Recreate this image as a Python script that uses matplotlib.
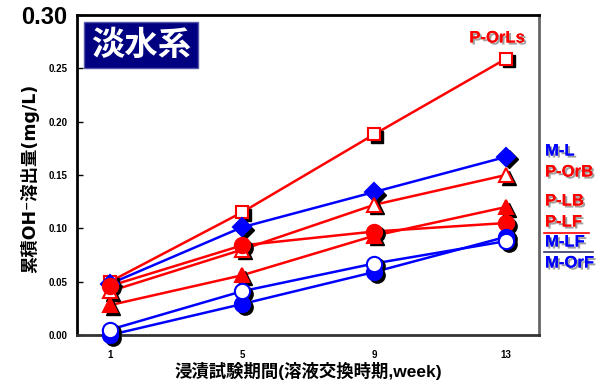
import matplotlib
matplotlib.use("Agg")
import matplotlib.pyplot as plt
import matplotlib.transforms as mtrans
import matplotlib.patheffects as pe
from matplotlib.lines import Line2D

plt.rcParams['font.family'] = ['Liberation Sans', 'DejaVu Sans', 'Noto Sans CJK JP']

weeks = [1, 5, 9, 13]
series_names = ["P-OrLs", "M-L", "P-OrB", "P-LB", "P-LF", "M-LF", "M-OrF"]
p_orls = [0.050, 0.115, 0.188, 0.259]
m_l = [0.048, 0.101, 0.134, 0.167]
p_orb = [0.041, 0.080, 0.122, 0.150]
p_lb = [0.028, 0.056, 0.093, 0.120]
p_lf = [0.046, 0.084, 0.097, 0.105]
m_lf = [0.000, 0.029, 0.059, 0.092]
m_orf = [0.005, 0.041, 0.067, 0.088]
yticks = [0.00, 0.05, 0.10, 0.15, 0.20, 0.25, 0.30]
ytick_labels = ["0.00", "0.05", "0.10", "0.15", "0.20", "0.25", "0.30"]

RED = "#FF0000"
BLUE = "#0000FF"

styles = [
    (p_orls, RED, 's', 'white'),
    (m_l, BLUE, 'D', BLUE),
    (p_orb, RED, '^', 'white'),
    (p_lb, RED, '^', RED),
    (p_lf, RED, 'o', RED),
    (m_lf, BLUE, 'o', BLUE),
    (m_orf, BLUE, 'o', 'white'),
]
msizes = {'s': 9, 'D': 9, '^': 10, 'o': 11}

fig = plt.figure(figsize=(6.12, 3.8), dpi=100)
ax = fig.add_axes([77/612, 1-335/380, (539-77)/612, (335-15)/380])
ax.set_xlim(0, 14)
ax.set_ylim(0, 0.30)

shadow_tr = ax.transData + mtrans.ScaledTranslation(2.5/100, -2.5/100, fig.dpi_scale_trans)

for vals, col, mk, fc in styles:
    ax.plot(weeks, vals, '-', color=col, lw=1.8, zorder=2, clip_on=False)
for vals, col, mk, fc in styles:
    ax.plot(weeks, vals, linestyle='none', marker=mk, ms=msizes[mk], mfc='black',
            mec='black', transform=shadow_tr, zorder=3, clip_on=False)
for vals, col, mk, fc in styles:
    ax.plot(weeks, vals, linestyle='none', marker=mk, ms=msizes[mk], mfc=fc,
            mec=col, mew=1.5, zorder=4, clip_on=False)

ax.set_xticks(weeks)
ax.set_xticklabels([str(w) for w in weeks], fontsize=7, fontweight='bold')
ax.tick_params(axis='x', length=0, pad=11)
ax.set_yticks(yticks)
labs = ax.set_yticklabels(ytick_labels, fontsize=7, fontweight='bold')
labs[-1].set_fontsize(17)
ax.tick_params(axis='y', direction='in', length=4, width=1, pad=7)

for s in ['left', 'top']:
    ax.spines[s].set_linewidth(2)
    ax.spines[s].set_color('black')
ax.spines['bottom'].set_linewidth(2)
ax.spines['bottom'].set_color('#333333')
ax.spines['right'].set_linewidth(2)
ax.spines['right'].set_color('#666666')

ax.set_xlabel("浸漬試験期間(溶液交換時期,week)", fontsize=12.5, fontweight='bold')
ax.xaxis.set_label_coords(0.5, (335 - 371) / 320)
ax.xaxis.label.set_va('center')
ax.set_ylabel("累積OH⁻溶出量(mg/L)", fontsize=12.5, fontweight='bold',
              family=['DejaVu Sans', 'Noto Sans CJK JP'])
ax.yaxis.set_label_coords(-(77 - 30) / 462, 0.49)
ax.yaxis.label.set_va('center')

fig.text(141/612, 1-45/380, "淡水系", fontsize=24, fontweight='bold', color='white',
         ha='center', va='center', family=['Noto Sans CJK JP'],
         bbox=dict(boxstyle='square,pad=0.2', fc='#000080', ec='#5555aa', lw=1))

shadow = [pe.withSimplePatchShadow(offset=(1.5, -1.5), shadow_rgbFace='#888888', alpha=0.8), pe.Normal()]
labels = [
    ("P-OrLs", 497, 38, RED),
    ("M-L", 545, 151, BLUE),
    ("P-OrB", 545, 172, RED),
    ("P-LB", 545, 201, RED),
    ("P-LF", 545, 222, RED),
    ("M-LF", 545, 242, BLUE),
    ("M-OrF", 545, 263, BLUE),
]
for i, (t, x, y, c) in enumerate(labels):
    ha = 'center' if i == 0 else 'left'
    fig.text(x/612, 1-y/380, t, fontsize=12, fontweight='bold', color=c,
             ha=ha, va='center', path_effects=shadow)

fig.add_artist(Line2D([544/612, 589/612], [1-233/380, 1-233/380], color=RED, lw=1.2))
fig.add_artist(Line2D([544/612, 593/612], [1-252/380, 1-252/380], color='#333366', lw=1.2))

fig.savefig("out.png", dpi=100)
